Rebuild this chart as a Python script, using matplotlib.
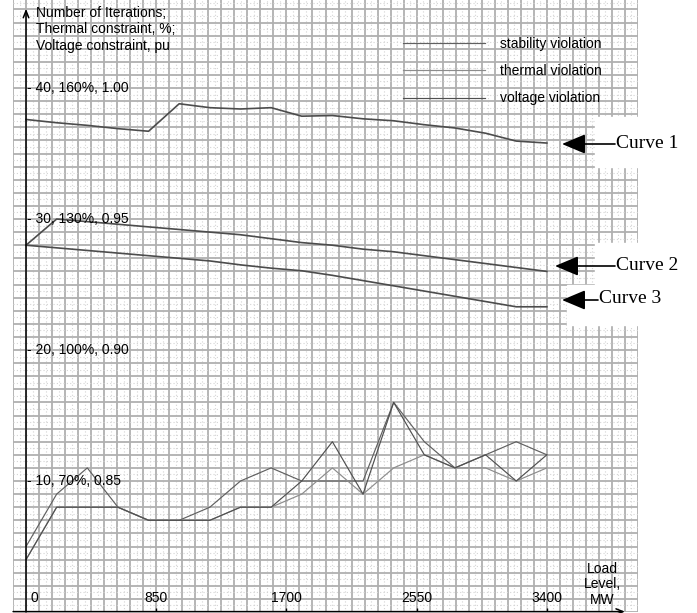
import matplotlib
matplotlib.use("Agg")
import matplotlib.pyplot as plt
from matplotlib.patches import Rectangle
import numpy as np

plt.rcParams['font.family'] = ['Liberation Sans', 'DejaVu Sans']

# load level, MW
load = [0, 200, 400, 600, 800, 1000, 1200, 1400, 1600, 1800,
        2000, 2200, 2400, 2600, 2800, 3000, 3200, 3400]

# number of iterations
stability = [5, 9, 11, 8, 7, 7, 8, 10, 11, 10, 10, 10, 16, 13, 11, 12, 13, 12]
thermal = [4, 8, 8, 8, 7, 7, 7, 8, 8, 9, 11, 9, 11, 12, 11, 11, 10, 11]
voltage = [4, 8, 8, 8, 7, 7, 7, 8, 8, 10, 13, 9, 16, 12, 11, 12, 10, 12]

# constraint curves (in axis units)
curve1 = [37.6, 37.35, 37.15, 36.9, 36.7, 38.8, 38.5, 38.4, 38.5, 37.85,
          37.9, 37.65, 37.5, 37.2, 36.95, 36.55, 35.95, 35.8]
curve2 = [28.0, 30.0, 29.8, 29.6, 29.4, 29.2, 29.0, 28.8, 28.5, 28.2,
          28.0, 27.7, 27.5, 27.2, 26.9, 26.6, 26.3, 26.0]
curve3 = [28.0, 27.8, 27.6, 27.4, 27.2, 27.0, 26.8, 26.5, 26.25, 26.05,
          25.7, 25.3, 24.9, 24.5, 24.1, 23.7, 23.3, 23.3]

xticks = [850, 1700, 2550, 3400]
xticklabels = ["850", "1700", "2550", "3400"]
yticks = [10, 20, 30, 40]
yticklabels = ["10, 70%, 0.85", "20, 100%, 0.90", "30, 130%, 0.95", "40, 160%, 1.00"]
curve_names = ["Curve 1", "Curve 2", "Curve 3"]

W, H = 697, 613
fig = plt.figure(figsize=(W / 100, H / 100), dpi=100)
ax = fig.add_axes([13 / W, 1 / H, (638 - 13) / W, 612 / H])
ax.set_xlim(-84.5, 3980)
ax.set_ylim(0, 46.72)

# grid paper
ax.set_xticks(np.arange(-85, 4000, 85))
ax.set_yticks(np.arange(0, 47, 1))
ax.set_xticks(np.arange(-42.5, 4000, 85), minor=True)
ax.set_yticks(np.arange(0.5, 47, 1), minor=True)
ax.grid(which='major', color='#b0b0b0', lw=1.3)
ax.grid(which='minor', color='#d4d4d4', lw=0.8, ls=(0, (1, 2)))
ax.tick_params(which='both', length=0, labelbottom=False, labelleft=False)
for s in ax.spines.values():
    s.set_visible(False)
ax.set_axisbelow(True)

# curves
for c in (curve1, curve2, curve3):
    ax.plot(load, c, color='#4c4c4c', lw=1.2)
l1, = ax.plot(load, stability, color='#606060', lw=0.85, label='stability violation')
l2, = ax.plot(load, thermal, color='#8c8c8c', lw=0.85, label='thermal violation')
l3, = ax.plot(load, voltage, color='#505050', lw=0.85, label='voltage violation')

# axes with arrows
ax.annotate('', xy=(0, 46.05), xytext=(0, 0), annotation_clip=False,
            arrowprops=dict(arrowstyle='->,head_length=0.5,head_width=0.2',
                            color='k', lw=1.1, mutation_scale=10, shrinkA=0, shrinkB=0))
ax.annotate('', xy=(3910, 0.03), xytext=(-84.5, 0.03), annotation_clip=False,
            arrowprops=dict(arrowstyle='->,head_length=0.5,head_width=0.2',
                            color='k', lw=1.1, mutation_scale=10, shrinkA=0, shrinkB=0))

# tick labels inside the plot
fs = 10
for v, lab in zip(yticks, yticklabels):
    ax.text(6, v, "- " + lab, fontsize=fs, va='center', ha='left')
ax.text(26, 0.55, "0", fontsize=fs, va='bottom', ha='left')
for v, lab in zip(xticks, xticklabels):
    ax.text(v, 0.55, lab, fontsize=fs, va='bottom', ha='center')
ax.vlines(xticks, 0, 0.3, color='k', lw=1)
ax.text(3760, 2.1, "Load\nLevel,\nMW", fontsize=fs, ha='center', va='center',
        linespacing=1.15)
ax.text(65, 46.3, "Number of Iterations;\nThermal constraint, %;\nVoltage constraint, pu",
        fontsize=fs, ha='left', va='top', linespacing=1.25)

ax.legend(handles=[l1, l2, l3], loc='upper left', frameon=False, fontsize=fs,
          bbox_to_anchor=(403 / W, 1 - 37 / H), bbox_transform=fig.transFigure,
          borderpad=0, borderaxespad=0, handlelength=5.9, handletextpad=1.05,
          labelspacing=0.95)

# white boxes and curve labels
for (x0, y0, x1, y1) in [(595, 117, 697, 167), (595, 243, 697, 285), (567, 285, 697, 325)]:
    fig.add_artist(Rectangle((x0 / W, 1 - y1 / H), (x1 - x0) / W, (y1 - y0) / H,
                             transform=fig.transFigure, color='white', zorder=3))

arrows = [((562, 144), (615, 144)), ((555, 266), (615, 266)), ((562, 300), (598, 300))]
for name, (tip, tail) in zip(curve_names, arrows):
    fig.add_artist(plt.Annotation('', xy=(tip[0], H - tip[1]), xytext=(tail[0], H - tail[1]),
                   xycoords='figure pixels', textcoords='figure pixels',
                   arrowprops=dict(arrowstyle='-|>,head_length=1.0,head_width=0.42',
                                   color='k', lw=1.2, mutation_scale=14.4,
                                   shrinkA=0, shrinkB=0), zorder=4))
    fig.text((tail[0] + 1) / W, 1 - (tail[1] - 1) / H, name, fontsize=14,
             family='Liberation Serif', ha='left', va='center', zorder=5)

fig.savefig("out.png", dpi=100)
